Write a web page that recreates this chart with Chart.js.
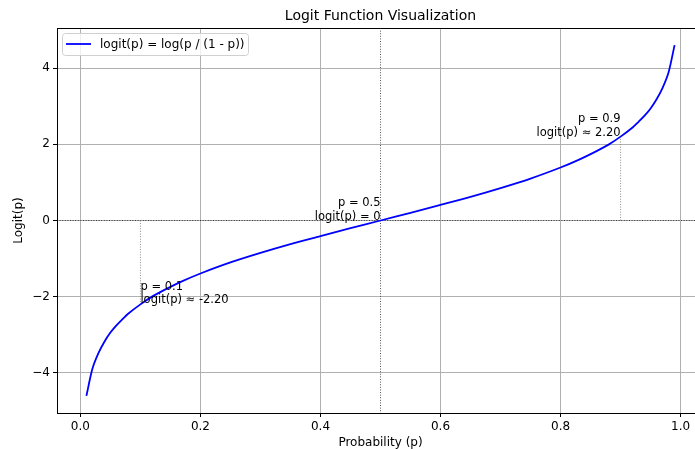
<!DOCTYPE html>
<html>
<head>
<meta charset="utf-8">
<script src="https://cdn.jsdelivr.net/npm/chart.js@4.4.0/dist/chart.umd.min.js"></script>
<style>
  html, body { margin: 0; padding: 0; background: #fff; overflow: hidden; }
  canvas { display: block; }
</style>
</head>
<body>
<canvas id="logit-chart" width="720" height="449"></canvas>
<script>
// values
const probs = [0.01, 0.02, 0.03, 0.04, 0.05, 0.06, 0.07, 0.08, 0.1, 0.12, 0.14, 0.17, 0.2, 0.25, 0.3, 0.35, 0.4, 0.45, 0.5,
  0.55, 0.6, 0.65, 0.7, 0.75, 0.8, 0.83, 0.86, 0.88, 0.9, 0.92, 0.93, 0.94, 0.95, 0.96, 0.97, 0.98, 0.99];
const logits = [-4.6, -3.89, -3.48, -3.18, -2.94, -2.75, -2.59, -2.44, -2.2, -1.99, -1.82, -1.59, -1.39, -1.1, -0.85, -0.62, -0.41, -0.2, 0,
  0.2, 0.41, 0.62, 0.85, 1.1, 1.39, 1.59, 1.82, 1.99, 2.2, 2.44, 2.59, 2.75, 2.94, 3.18, 3.48, 3.89, 4.6];
const xTicks = [0, 0.2, 0.4, 0.6, 0.8, 1.0];
const yTicks = [-4, -2, 0, 2, 4];
const marks = [
  { p: 0.1, v: -2.2, lines: ["p = 0.1", "logit(p) \u2248 -2.20"], align: "left" },
  { p: 0.5, v: 0, lines: ["p = 0.5", "logit(p) = 0"], align: "right" },
  { p: 0.9, v: 2.2, lines: ["p = 0.9", "logit(p) \u2248 2.20"], align: "right" },
];
const legendLabel = "logit(p) = log(p / (1 - p))";
const titleText = "Logit Function Visualization";

const FONT = "DejaVu Sans";

const extras = {
  id: "extras",
  beforeDatasetsDraw(chart) {
    const { ctx, chartArea: a, scales: { x, y } } = chart;
    ctx.save();
    ctx.lineWidth = 0.9;
    ctx.setLineDash([1, 1.6]);
    // horizontal line at 0 and vertical at 0.5
    ctx.strokeStyle = "rgba(0,0,0,0.75)";
    ctx.beginPath();
    ctx.moveTo(a.left, y.getPixelForValue(0));
    ctx.lineTo(a.right, y.getPixelForValue(0));
    ctx.moveTo(x.getPixelForValue(0.5), a.top);
    ctx.lineTo(x.getPixelForValue(0.5), a.bottom);
    ctx.stroke();
    // drops for 0.1 and 0.9
    ctx.strokeStyle = "#808080";
    ctx.beginPath();
    marks.forEach((m) => {
      if (m.v === 0) return;
      ctx.moveTo(x.getPixelForValue(m.p), y.getPixelForValue(0));
      ctx.lineTo(x.getPixelForValue(m.p), y.getPixelForValue(m.v));
    });
    ctx.stroke();
    ctx.restore();
  },
  afterDatasetsDraw(chart) {
    const { ctx, chartArea: a, scales: { x, y } } = chart;
    ctx.save();
    ctx.fillStyle = "#000";
    ctx.font = `11.5px "${FONT}"`;
    ctx.textBaseline = "alphabetic";
    marks.forEach((m) => {
      const px = x.getPixelForValue(m.p);
      const py = y.getPixelForValue(m.v) - 1;
      ctx.textAlign = m.align;
      ctx.fillText(m.lines[1], px, py);
      ctx.fillText(m.lines[0], px, py - 13.5);
    });

    // top spine
    ctx.strokeStyle = "#000";
    ctx.lineWidth = 1;
    ctx.beginPath();
    ctx.moveTo(a.left, a.top + 0.5);
    ctx.lineTo(a.right, a.top + 0.5);
    ctx.stroke();

    // legend
    const bx = 62, by = 33, bw = 186, bh = 22;
    ctx.fillStyle = "rgba(255,255,255,0.8)";
    ctx.strokeStyle = "#d0d0d0";
    ctx.lineWidth = 1;
    ctx.beginPath();
    ctx.roundRect(bx + 0.5, by + 0.5, bw, bh, 3);
    ctx.fill();
    ctx.stroke();
    ctx.strokeStyle = "blue";
    ctx.lineWidth = 1.8;
    ctx.beginPath();
    ctx.moveTo(66, by + 11);
    ctx.lineTo(91, by + 11);
    ctx.stroke();
    ctx.fillStyle = "#000";
    ctx.font = `12px "${FONT}"`;
    ctx.textAlign = "left";
    ctx.textBaseline = "middle";
    ctx.fillText(legendLabel, 100, by + 11.5);

    // title
    ctx.font = `14px "${FONT}"`;
    ctx.textAlign = "center";
    ctx.fillText(titleText, (a.left + a.right) / 2, 16);
    ctx.restore();
  },
};

new Chart(document.getElementById("logit-chart"), {
  type: "line",
  data: {
    datasets: [
      {
        label: legendLabel,
        data: probs.map((p, i) => ({ x: p, y: logits[i] })),
        borderColor: "blue",
        borderWidth: 1.8,
        pointRadius: 0,
        tension: 0.3,
        fill: false,
      },
    ],
  },
  options: {
    responsive: false,
    animation: false,
    layout: { padding: { left: 0, right: 16, top: 28, bottom: 0 } },
    plugins: {
      legend: { display: false },
      title: { display: false },
      tooltip: { enabled: false },
    },
    scales: {
      x: {
        type: "linear",
        min: -0.039,
        max: 1.039,
        afterBuildTicks: (s) => { s.ticks = xTicks.map((v) => ({ value: v })); },
        afterFit: (s) => { s.height = 36; },
        grid: { color: "#b0b0b0", lineWidth: 1, tickLength: 4, tickColor: "#000" },
        border: { color: "#000", width: 1 },
        ticks: {
          color: "#000",
          padding: 3,
          maxRotation: 0,
          font: { family: FONT, size: 12 },
          callback: (v) => v.toFixed(1),
        },
        title: {
          display: true,
          text: "Probability (p)",
          color: "#000",
          font: { family: FONT, size: 12 },
          padding: { top: 0, bottom: -1.5 },
        },
      },
      y: {
        min: -5.05,
        max: 5.05,
        afterBuildTicks: (s) => { s.ticks = yTicks.map((v) => ({ value: v })); },
        afterFit: (s) => { s.width = 57; },
        grid: { color: "#b0b0b0", lineWidth: 1, tickLength: 4, tickColor: "#000" },
        border: { color: "#000", width: 1 },
        ticks: {
          color: "#000",
          padding: 3,
          font: { family: FONT, size: 12 },
          callback: (v) => String(v).replace("-", "\u2212"),
        },
        title: {
          display: true,
          text: "Logit(p)",
          color: "#000",
          font: { family: FONT, size: 12 },
          padding: { top: 12, bottom: 0 },
        },
      },
    },
  },
  plugins: [extras],
});
</script>
</body>
</html>
